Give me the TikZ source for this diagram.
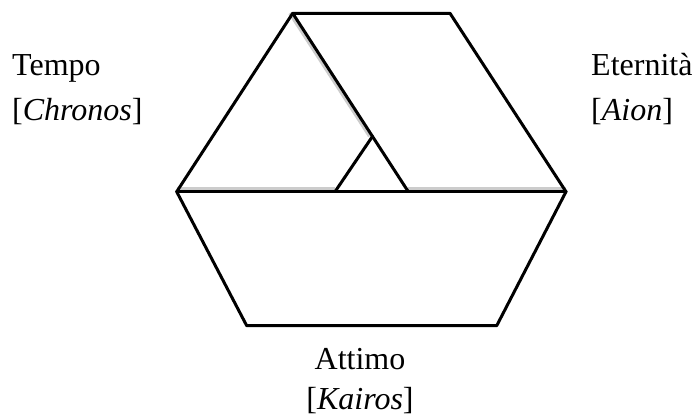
\documentclass[tikz,border=0pt]{standalone}
\usepackage{fontspec}
\setmainfont{Liberation Serif}
\usetikzlibrary{calc}
\begin{document}
\begin{tikzpicture}[x=1pt,y=-1pt,
  edge/.style={line width=3pt,line join=round,line cap=round},
  shade/.style={line width=3pt,draw=black!20},
  lbl/.style={inner sep=0pt,font=\fontsize{32}{40}\selectfont}]
\useasboundingbox (0,0) rectangle (696,417);
\coordinate (tl) at (292.7,13.3);
\coordinate (tr) at (450,13.3);
\coordinate (r) at (566,191.7);
\coordinate (br) at (496.7,325.7);
\coordinate (bl) at (246.7,325.7);
\coordinate (l) at (176.7,191.7);
\coordinate (d) at (408.3,191.7);
\coordinate (j) at ($(tl)!0.69!(d)$);
\coordinate (s) at (335,191.7);
% faint shadows
\draw[shade] ([xshift=-3pt]tl) -- ([xshift=-3pt]j);
\draw[shade] ([yshift=3pt]l) -- ([yshift=3pt]s);
\draw[shade] ([yshift=3pt]d) -- ([yshift=3pt]r);
% main shape
\draw[edge] (tl) -- (tr) -- (r) -- (br) -- (bl) -- (l) -- cycle;
\draw[edge] (l) -- (r);
\draw[edge] (tl) -- (d);
\draw[edge] (j) -- (s);
% labels
\node[lbl,anchor=base west] (t1) at (12,75.5) {Tempo};
\node[lbl,anchor=base west] (t2) at (12,120.5) {[\textit{Chronos}]};
\node[lbl,anchor=base west] (e1) at (591,75.5) {Eternità};
\node[lbl,anchor=base west] (e2) at (591,120.5) {[\textit{Aion}]};
\node[lbl,anchor=base] (a1) at (360,369) {Attimo};
\node[lbl,anchor=base] (a2) at (360,409) {[\textit{Kairos}]};
\end{tikzpicture}
\end{document}
